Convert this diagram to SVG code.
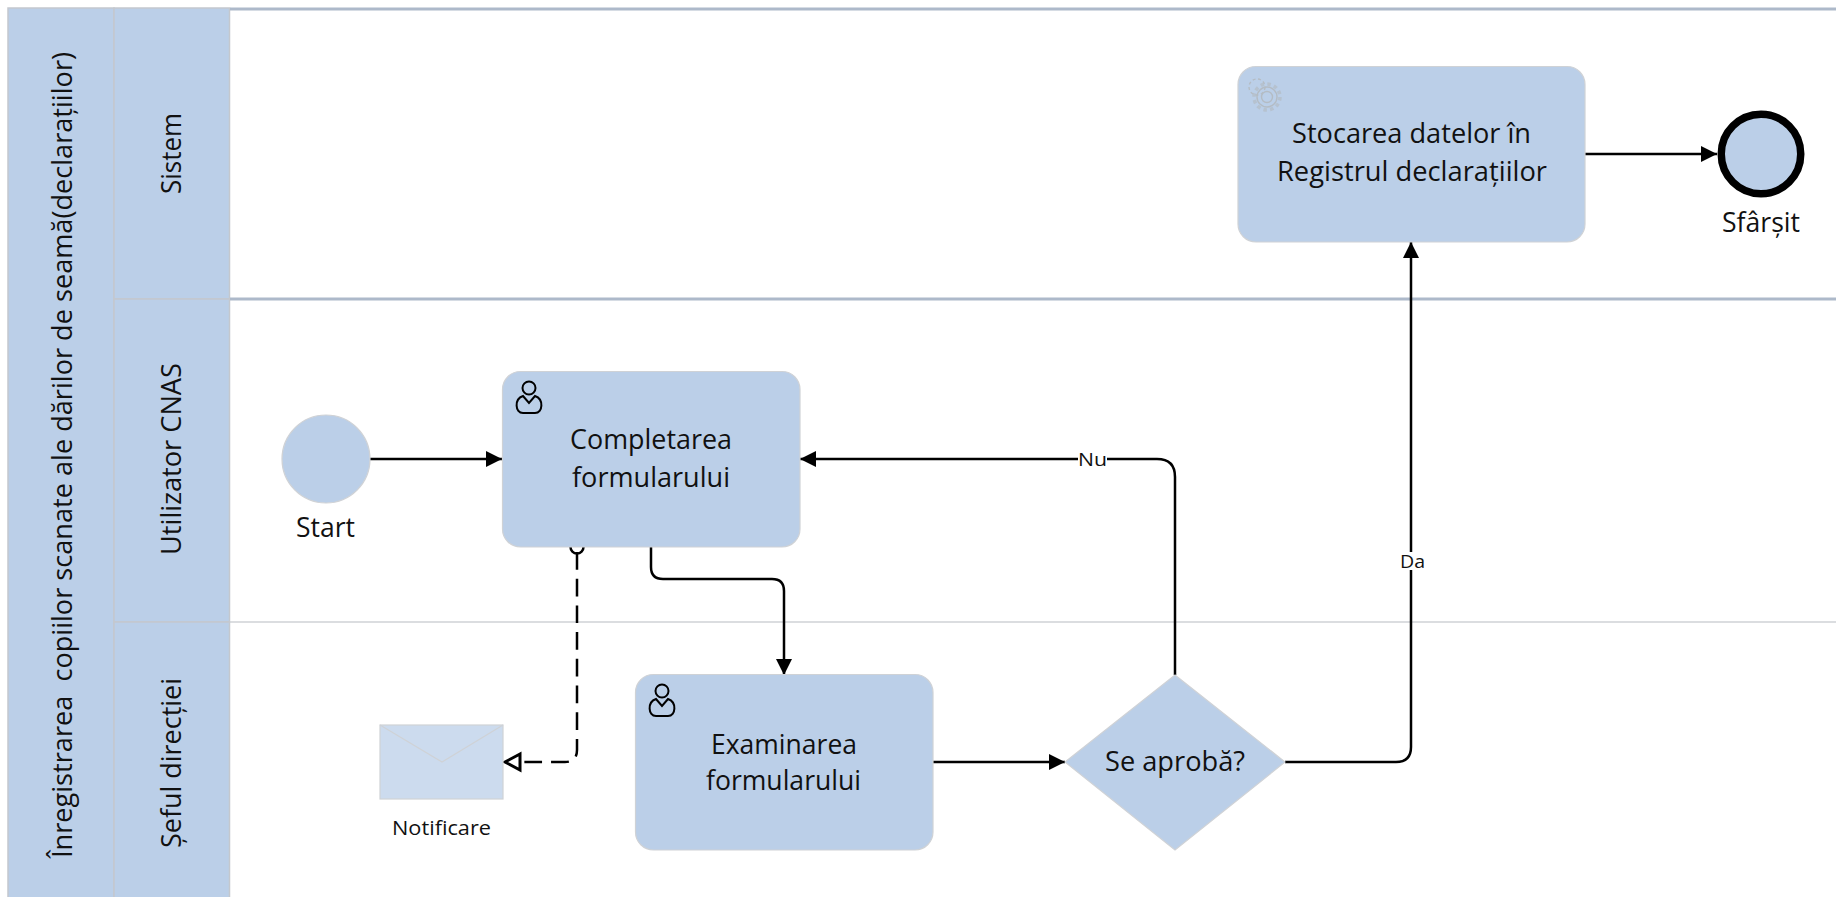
<svg xmlns="http://www.w3.org/2000/svg" width="1836" height="897" viewBox="0 0 1836 897">
<style>
text{font-family:"Open Sans","Noto Sans","Liberation Sans",sans-serif;fill:#111;font-size:27px;white-space:pre}
.hdr{fill:#bbcfe8;stroke:#c4c8ce;stroke-width:1.5}
.shape{fill:#bbcfe8;stroke:#cfd2d6;stroke-width:1.2}
.conn{fill:none;stroke:#000;stroke-width:2.5}
.sep{stroke:#adb9ca;stroke-width:3}
.ic{fill:none;stroke:#000;stroke-width:2}
.gear{fill:none;stroke:#b4bcc4;stroke-width:1.4}
.lbl{font-size:19px}
</style>
<defs>
<marker id="arr" markerUnits="userSpaceOnUse" markerWidth="18" markerHeight="18" refX="16" refY="8" orient="auto"><path d="M0 0L16 8L0 16Z" fill="#000"/></marker>
<symbol id="user" overflow="visible"><circle cx="13" cy="7" r="6.500" class="ic"/><path class="ic" d="M7 15C-2 18-1 32 7 32L19 32C27 32 28 18 19 15L13 22Z"/></symbol>
</defs>
<rect width="1836" height="897" fill="#fff"/>
<g id="pool">
<rect class="hdr" x="8" y="8" width="106" height="895"/>
<text transform="translate(72 858) rotate(-90)" textLength="806" lengthAdjust="spacingAndGlyphs">Înregistrarea  copiilor scanate ale dărilor de seamă(declarațiilor)</text>
</g>
<g id="lane-sistem">
<rect class="hdr" x="114" y="8" width="115.500" height="291"/>
<line class="sep" x1="230" y1="9" x2="1836" y2="9"/>
<text transform="translate(181 194) rotate(-90)" textLength="81" lengthAdjust="spacingAndGlyphs">Sistem</text>
</g>
<g id="lane-utilizator">
<rect class="hdr" x="114" y="299" width="115.500" height="323"/>
<line class="sep" x1="230" y1="299" x2="1836" y2="299"/>
<text transform="translate(181 555) rotate(-90)" textLength="192" lengthAdjust="spacingAndGlyphs">Utilizator CNAS</text>
</g>
<g id="lane-sef">
<rect class="hdr" x="114" y="622" width="115.500" height="281"/>
<line x1="230" y1="622" x2="1836" y2="622" stroke="#cfd2d6" stroke-width="1.500"/>
<text transform="translate(181 848) rotate(-90)" textLength="170" lengthAdjust="spacingAndGlyphs">Șeful direcției</text>
</g>
<g id="connectors">
<path class="conn" marker-end="url(#arr)" d="M370 459H502"/>
<path class="conn" marker-end="url(#arr)" d="M651 547V567Q651 579 663 579H772Q784 579 784 591V675"/>
<path class="conn" marker-end="url(#arr)" d="M933 762H1065"/>
<path class="conn" marker-end="url(#arr)" d="M1175 675V477Q1175 459 1157 459H800"/>
<path class="conn" marker-end="url(#arr)" d="M1285 762H1396Q1411 762 1411 747V242"/>
<path class="conn" marker-end="url(#arr)" d="M1585 154H1717"/>
<path class="conn" d="M570.500 547A6.500 6.500 0 0 0 583.500 547"/>
<path class="conn" stroke-dasharray="17.700 9" d="M577 552V750Q577 762 565 762H521"/>
<path d="M520 754L505 762L520 770Z" fill="#fff" stroke="#000" stroke-width="3"/>
<rect x="1078" y="450" width="29" height="18" fill="#fff"/>
<text class="lbl" x="1078" y="466" textLength="29" lengthAdjust="spacingAndGlyphs">Nu</text>
<rect x="1398" y="552" width="28" height="18" fill="#fff"/>
<text class="lbl" x="1400" y="568" textLength="25" lengthAdjust="spacingAndGlyphs">Da</text>
</g>
<g id="start">
<circle class="shape" cx="326" cy="459" r="44"/>
<text x="296" y="537" textLength="59" lengthAdjust="spacingAndGlyphs">Start</text>
</g>
<g id="task-completare">
<rect class="shape" x="502.500" y="371.500" width="297.500" height="175.500" rx="18"/>
<use href="#user" x="516" y="381"/>
<text x="570" y="449" textLength="162" lengthAdjust="spacingAndGlyphs">Completarea</text>
<text x="572" y="487" textLength="158" lengthAdjust="spacingAndGlyphs">formularului</text>
</g>
<g id="task-examinare">
<rect class="shape" x="635.500" y="674.500" width="297.500" height="175.500" rx="18"/>
<use href="#user" x="649" y="684"/>
<text x="711" y="754" textLength="146" lengthAdjust="spacingAndGlyphs">Examinarea</text>
<text x="706" y="790" textLength="155" lengthAdjust="spacingAndGlyphs">formularului</text>
</g>
<g id="message">
<rect x="380" y="725" width="123" height="74" fill="#ccdbee" stroke="#cfd2d6" stroke-width="1.200"/>
<path d="M380 725L442 762L503 725" fill="none" stroke="#cfd2d6" stroke-width="1.200"/>
<text class="lbl" x="392" y="835" style="font-size:20px" textLength="99" lengthAdjust="spacingAndGlyphs">Notificare</text>
</g>
<g id="gateway">
<path class="shape" d="M1175 675L1285 762L1175 850L1065 762Z"/>
<text x="1105" y="771" textLength="140" lengthAdjust="spacingAndGlyphs">Se aprobă?</text>
</g>
<g id="task-stocare">
<rect class="shape" x="1238" y="66.500" width="347" height="175.500" rx="18"/>
<g class="gear"><circle cx="1267" cy="97" r="5.500"/><circle cx="1267" cy="97" r="13" stroke-width="3.500" stroke-dasharray="3.500 3.300" opacity=".7"/><circle cx="1267" cy="97" r="10"/><circle cx="1257" cy="87" r="8" stroke-dasharray="3 2.500"/></g>
<text x="1292" y="143" textLength="239" lengthAdjust="spacingAndGlyphs">Stocarea datelor în</text>
<text x="1277" y="181" textLength="270" lengthAdjust="spacingAndGlyphs">Registrul declarațiilor</text>
</g>
<g id="end">
<circle cx="1761" cy="154" r="39.750" fill="#bbcfe8" stroke="#000" stroke-width="7.500"/>
<text x="1722" y="232" textLength="78" lengthAdjust="spacingAndGlyphs">Sfârșit</text>
</g>
</svg>
